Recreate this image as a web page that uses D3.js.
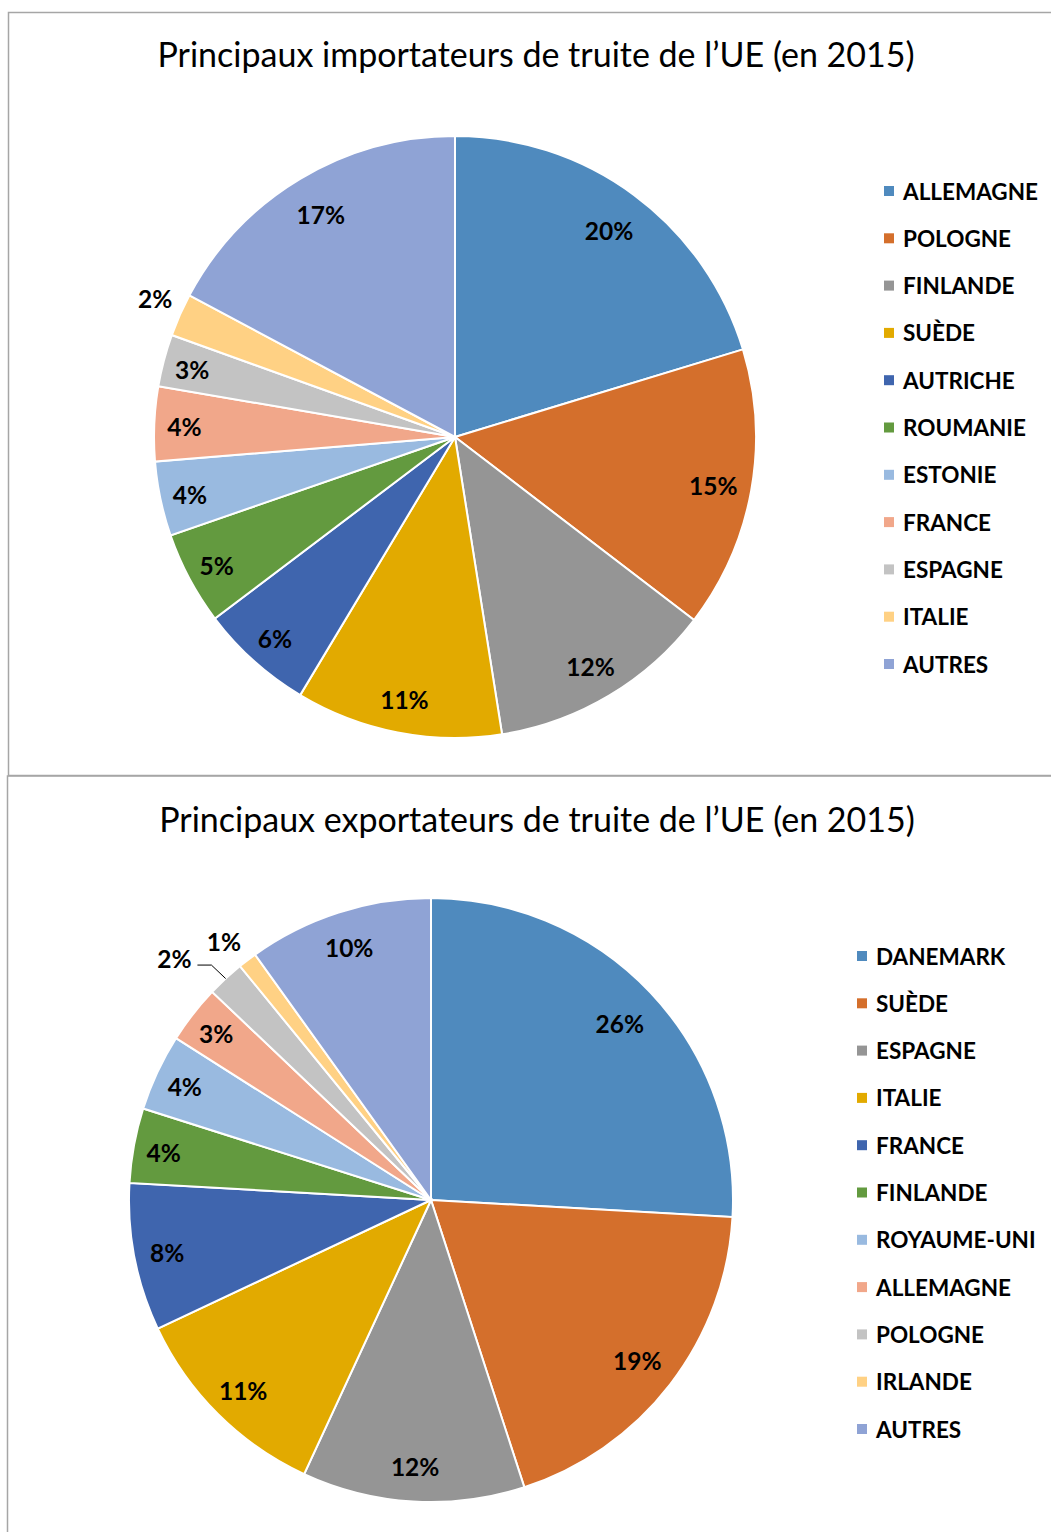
<!DOCTYPE html>
<html>
<head>
<meta charset="utf-8">
<script src="https://cdn.jsdelivr.net/npm/d3@7"></script>
<style>
  body { margin: 0; background: #fff; }
  svg { display: block; }
</style>
</head>
<body>
<div id="app"></div>
<script>
const importTitle = 'Principaux importateurs de truite de l\u2019UE (en 2015)';
const importCountries = ['ALLEMAGNE', 'POLOGNE', 'FINLANDE', 'SUÈDE', 'AUTRICHE', 'ROUMANIE',
  'ESTONIE', 'FRANCE', 'ESPAGNE', 'ITALIE', 'AUTRES'];
const importShares = [20.3, 15.1, 12.1, 11.1, 6.1, 5.0, 4.0, 4.0, 2.8, 2.3, 17.2];

const exportTitle = 'Principaux exportateurs de truite de l\u2019UE (en 2015)';
const exportCountries = ['DANEMARK', 'SUÈDE', 'ESPAGNE', 'ITALIE', 'FRANCE', 'FINLANDE',
  'ROYAUME-UNI', 'ALLEMAGNE', 'POLOGNE', 'IRLANDE', 'AUTRES'];
const exportShares = [25.9, 19.1, 11.9, 11.1, 7.9, 4.0, 4.1, 3.1, 2.0, 1.0, 9.9];

const palette = ['#4f8abe', '#d46f2c', '#959595', '#e2aa00', '#3f65ae', '#639a3f',
  '#99bae0', '#f1a78a', '#c3c3c3', '#ffd184', '#8fa3d5'];

const W = 1051, H = 1532;
const svg = d3.select('#app').append('svg')
  .attr('width', W)
  .attr('height', H);

const font = 'Lato, "Open Sans", sans-serif';

function drawPie(opts) {
  const g = svg.append('g');

  // frame
  g.append('rect')
    .attr('x', opts.box[0])
    .attr('y', opts.box[1])
    .attr('width', opts.box[2])
    .attr('height', opts.box[3])
    .attr('fill', 'none')
    .attr('stroke', '#a6a6a6')
    .attr('stroke-width', 1.5);

  g.append('text')
    .attr('x', opts.titleX)
    .attr('y', opts.titleY)
    .attr('text-anchor', 'middle')
    .style('font-family', font)
    .style('font-size', '34px')
    .attr('fill', '#000')
    .text(opts.title);

  const r = opts.r;
  const pie = d3.pie().sort(null).value(d => d);
  const arcs = pie(opts.values);
  const arc = d3.arc().innerRadius(0).outerRadius(r);

  const pg = g.append('g')
    .attr('transform', `translate(${opts.cx},${opts.cy})`);

  pg.selectAll('path')
    .data(arcs)
    .enter()
    .append('path')
    .attr('d', arc)
    .attr('fill', (d, i) => palette[i])
    .attr('stroke', '#fff')
    .attr('stroke-width', 2);

  // percent labels (narrow slices get their label pushed a bit further out)
  pg.selectAll('text.label')
    .data(arcs)
    .enter()
    .append('text')
    .attr('class', 'label')
    .attr('transform', (d, i) => {
      const o = opts.outside[i];
      const a = (d.startAngle + d.endAngle) / 2 + (o ? o.da : 0);
      const k = o ? o.k : 0.91 - 0.05 * Math.min(1, d.value / 20);
      return `translate(${Math.sin(a) * r * k},${-Math.cos(a) * r * k})`;
    })
    .attr('text-anchor', 'middle')
    .attr('dy', '0.45em')
    .style('font-family', font)
    .style('font-size', '24.5px')
    .style('font-weight', 'bold')
    .attr('fill', '#000')
    .text(d => Math.round(d.value) + '%');

  // leader lines for small slices
  opts.leaders.forEach(l => {
    const d = arcs[l.i];
    const a = (d.startAngle + d.endAngle) / 2;
    const ex = Math.sin(a) * r, ey = -Math.cos(a) * r;
    const o = opts.outside[l.i];
    const la = a + o.da;
    const lx = Math.sin(la) * r * o.k + l.dx, ly = -Math.cos(la) * r * o.k + l.dy;
    pg.append('path')
      .attr('d', `M${lx},${ly}H${lx + 14}L${ex},${ey}`)
      .attr('fill', 'none')
      .attr('stroke', '#000')
      .attr('stroke-width', 1);
  });

  // legend
  const lg = g.append('g')
    .attr('transform', `translate(${opts.legendX},${opts.legendY})`);
  const rows = lg.selectAll('g')
    .data(opts.names)
    .enter()
    .append('g')
    .attr('transform', (d, i) => `translate(0,${i * 47.3})`);
  rows.append('rect')
    .attr('x', 0)
    .attr('y', -5)
    .attr('width', 10)
    .attr('height', 10)
    .attr('fill', (d, i) => palette[i]);
  rows.append('text')
    .attr('x', 19)
    .attr('dy', '0.38em')
    .style('font-family', font)
    .style('font-size', '22.5px')
    .style('font-weight', 'bold')
    .attr('fill', '#000')
    .text(d => d);
}

drawPie({
  box: [8.5, 12.5, 1100, 763],
  title: importTitle,
  titleX: 536, titleY: 67,
  cx: 455, cy: 437, r: 301,
  values: importShares,
  names: importCountries,
  outside: { 9: { k: 1.1, da: 0.02 } },
  leaders: [],
  legendX: 884, legendY: 191
});

drawPie({
  box: [7.5, 776, 1100, 800],
  title: exportTitle,
  titleX: 537, titleY: 832,
  cx: 431, cy: 1200, r: 302,
  values: exportShares,
  names: exportCountries,
  outside: { 8: { k: 1.17, da: -0.065 }, 9: { k: 1.1, da: -0.02 } },
  leaders: [{ i: 8, dx: 23, dy: 8 }],
  legendX: 857, legendY: 956
});
</script>
</body>
</html>
